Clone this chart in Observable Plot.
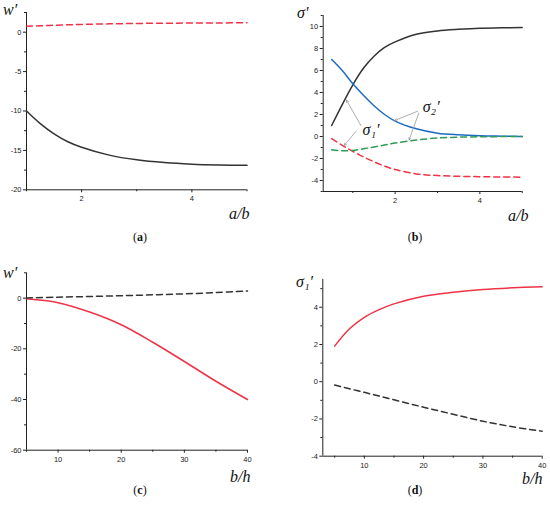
<!DOCTYPE html>
<html><head><meta charset="utf-8">
<script src="https://cdn.jsdelivr.net/npm/d3@7"></script>
<script src="https://cdn.jsdelivr.net/npm/@observablehq/plot@0.6"></script>
<style>
body{margin:0;background:#fff;}
#wrap{position:relative;width:550px;height:513px;overflow:hidden;font-family:"Liberation Serif","DejaVu Serif",serif;background:#fff;}
.panel{position:absolute;}
.t{position:absolute;font-style:italic;font-size:16px;line-height:1;color:#111;white-space:nowrap;}
.cap{position:absolute;font-size:12px;line-height:1;transform:translateX(-50%);color:#111;}
</style></head><body><div id="wrap"></div>
<script>
// ---------- data ----------
// (a) w' vs a/b
const aX     = [1, 1.25, 1.5, 1.75, 2, 2.5, 3, 3.5, 4, 4.5, 5];
const aBlack = [-10, -11.6, -12.9, -13.9, -14.6, -15.6, -16.2, -16.55, -16.75, -16.85, -16.9];
const aRed   = [0.75, 0.82, 0.88, 0.94, 0.99, 1.06, 1.11, 1.14, 1.16, 1.18, 1.19];
// (b) sigma' vs a/b
const bX     = [0.5, 0.75, 1, 1.25, 1.5, 1.75, 2, 2.5, 3, 3.5, 4, 4.5, 5];
const bBlack = [1.0, 2.9, 4.7, 6.2, 7.3, 8.1, 8.6, 9.3, 9.6, 9.75, 9.85, 9.88, 9.9];
const bBlue  = [7.0, 6.0, 4.8, 3.75, 2.8, 2.0, 1.4, 0.7, 0.3, 0.15, 0.07, 0.03, 0.0];
const bRed   = [-0.2, -0.8, -1.35, -1.85, -2.3, -2.7, -3.0, -3.4, -3.55, -3.62, -3.65, -3.68, -3.7];
const bGreen = [-1.2, -1.3, -1.27, -1.12, -0.95, -0.78, -0.6, -0.32, -0.14, -0.06, -0.03, -0.01, 0.0];
// annotations in (b)
const s1Label = [{x: 1.23, y: 0.6, t: "σ₁′"}];
const s2Label = [{x: 2.65, y: 2.66, t: "σ₂′"}];
const s1Links = [{x1: 1.19, y1: 1.0, x2: 0.85, y2: 3.3}, {x1: 1.07, y1: 0.45, x2: 0.8, y2: -0.8}];
const s2Links = [{x1: 2.53, y1: 2.3, x2: 1.99, y2: 1.45}, {x1: 2.56, y1: 2.15, x2: 2.33, y2: -0.3}];
// (c) w' vs b/h
const cX     = [5, 10, 15, 20, 25, 30, 35, 40];
const cRed   = [-0.25, -1.8, -5.5, -10.5, -17.4, -25, -32.8, -40];
const cBlack = [0.1, 0.4, 0.65, 0.95, 1.3, 1.7, 2.2, 2.8];
// (d) sigma1' vs b/h
const dX     = [5, 7.5, 10, 12.5, 15, 20, 25, 30, 35, 40];
const dRed   = [1.91, 2.84, 3.46, 3.87, 4.18, 4.59, 4.8, 4.95, 5.04, 5.1];
const dBlack = [-0.18, -0.38, -0.57, -0.77, -0.97, -1.37, -1.75, -2.12, -2.42, -2.66];

const BLACK = "#333", RED = "#ef3347", BLUE = "#1c6cc4", GREEN = "#2e9b57";
const DASH = "6,4";
const tbl = (xs, ys) => xs.map((x, i) => ({x, y: ys[i]}));
const fmt = d => String(d);

function panel(o) {
  const axFont = {fontSize: 7.5, fontFamily: "Liberation Sans, Arial, sans-serif", fill: "#222"};
  const marks = [
    Plot.ruleX([o.xDomain[0]], {stroke: "#222", strokeWidth: 1}),
    Plot.ruleY([o.yDomain[0]], {stroke: "#222", strokeWidth: 1}),
    Plot.axisX({ticks: o.xMajor, tickSize: 3, tickPadding: 3, tickFormat: fmt, label: null, stroke: "#222", ...axFont}),
    Plot.axisX({ticks: o.xMinor, tickSize: 2, tickFormat: () => "", label: null, stroke: "#222"}),
    Plot.axisY({ticks: o.yMajor, tickSize: 3, tickPadding: 2, tickFormat: fmt, label: null, stroke: "#222", ...axFont}),
    Plot.axisY({ticks: o.yMinor, tickSize: 2, tickFormat: () => "", label: null, stroke: "#222"}),
    ...o.series.map(s => Plot.line(s.data, {x: "x", y: "y", stroke: s.color, strokeWidth: 1.5,
      strokeDasharray: s.dash ? DASH : null, curve: "catmull-rom"})),
    ...(o.extra || [])
  ];
  const svg = Plot.plot({
    width: o.width, height: o.height,
    marginLeft: o.m[0], marginRight: o.m[1], marginTop: o.m[2], marginBottom: o.m[3],
    x: {domain: o.xDomain}, y: {domain: o.yDomain},
    style: {background: "transparent", overflow: "visible"},
    marks
  });
  svg.classList.add("panel");
  svg.style.left = o.left + "px";
  svg.style.top = o.top + "px";
  document.getElementById("wrap").appendChild(svg);
}

const range = (a, b, s) => d3.range(a, b + s / 2, s);

panel({left: 0, top: 0, width: 275, height: 250, m: [26, 28.5, 12, 60.7],
  xDomain: [1, 5], yDomain: [-20, 2.5],
  xMajor: [2, 4], xMinor: [1, 3, 5],
  yMajor: range(-20, 0, 5), yMinor: range(-17.5, 2.5, 5),
  series: [{data: tbl(aX, aBlack), color: BLACK}, {data: tbl(aX, aRed), color: RED, dash: true}]});

const sFont = {fontSize: 16, fontFamily: "Liberation Serif, DejaVu Serif, serif", fontStyle: "italic", fill: "#111", textAnchor: "start"};
const arrowOpts = {x1: "x1", y1: "y1", x2: "x2", y2: "y2", stroke: "#999", strokeWidth: 0.8, headLength: 4, bend: 0};
panel({left: 275, top: 0, width: 275, height: 250, m: [47.7, 28.3, 15, 59],
  xDomain: [0.3, 5], yDomain: [-5, 11],
  xMajor: [2, 4], xMinor: [1, 3, 5],
  yMajor: range(-4, 10, 2), yMinor: range(-5, 11, 2),
  series: [
    {data: tbl(bX, bBlack), color: BLACK},
    {data: tbl(bX, bBlue), color: BLUE},
    {data: tbl(bX, bRed), color: RED, dash: true},
    {data: tbl(bX, bGreen), color: GREEN, dash: true}],
  extra: [
    Plot.arrow(s1Links, arrowOpts),
    Plot.arrow(s2Links, arrowOpts),
    Plot.text(s1Label, {x: "x", y: "y", text: "t", ...sFont}),
    Plot.text(s2Label, {x: "x", y: "y", text: "t", ...sFont})]});

panel({left: 0, top: 255, width: 275, height: 258, m: [26, 28, 17.3, 63.3],
  xDomain: [5, 40], yDomain: [-60, 10],
  xMajor: [10, 20, 30, 40], xMinor: [5, 15, 25, 35],
  yMajor: range(-60, 0, 20), yMinor: range(-50, 10, 20),
  series: [{data: tbl(cX, cRed), color: RED}, {data: tbl(cX, cBlack), color: BLACK, dash: true}]});

panel({left: 275, top: 255, width: 275, height: 258, m: [47.3, 8.3, 23.8, 57.3],
  xDomain: [3, 40], yDomain: [-4, 5.5],
  xMajor: [10, 20, 30, 40], xMinor: [5, 15, 25, 35],
  yMajor: range(-4, 4, 2), yMinor: range(-3, 5, 2),
  series: [{data: tbl(dX, dRed), color: RED}, {data: tbl(dX, dBlack), color: BLACK, dash: true}]});

// titles and captions
const titles = [
  ["w′", 3, 2], ["σ′", 297, 5], ["w′", 3, 265], ["σ₁′", 296, 274],
  ["a/b", 229, 206], ["a/b", 508, 208], ["b/h", 230, 469], ["b/h", 522, 471]
];
const caps = [["a", 140, 231], ["b", 415, 231], ["c", 140, 484], ["d", 415, 484]];
const wrap = document.getElementById("wrap");
for (const [t, l, tp] of titles) {
  const d = document.createElement("div"); d.className = "t"; d.textContent = t;
  d.style.left = l + "px"; d.style.top = tp + "px"; wrap.appendChild(d);
}
for (const [t, l, tp] of caps) {
  const d = document.createElement("div"); d.className = "cap";
  d.innerHTML = "(<b>" + t + "</b>)";
  d.style.left = l + "px"; d.style.top = tp + "px"; wrap.appendChild(d);
}
</script></body></html>
